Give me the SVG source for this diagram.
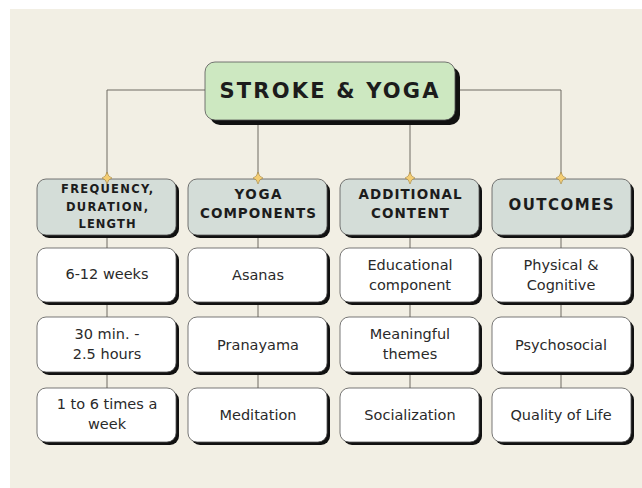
<svg xmlns="http://www.w3.org/2000/svg" width="642" height="488" viewBox="0 0 642 488">
<style>
.sh{fill:#111;}
.hd{fill:#d4ddd8;stroke:#555;stroke-width:0.8;}
.bx{fill:#ffffff;stroke:#555;stroke-width:0.8;}
.ttl{fill:#cde8c1;stroke:#555;stroke-width:0.8;}
.ln{fill:none;stroke:#6e6a62;stroke-width:1;}
.star{fill:#f4cd72;stroke:#a88438;stroke-width:0.6;}
.h{font-family:"DejaVu Sans","Open Sans",sans-serif;font-weight:bold;fill:#1c1c1c;text-anchor:middle;}
.t{font-family:"DejaVu Sans","Open Sans",sans-serif;font-size:14.5px;fill:#2a2a2a;text-anchor:middle;}
</style>
<defs>
<path id="spark" d="M0,-6 Q1,-1 5,0 Q1,1 0,6 Q-1,1 -5,0 Q-1,-1 0,-6 Z"/>
</defs>
<rect x="0" y="0" width="642" height="488" fill="#ffffff"/>
<rect x="10" y="9" width="632" height="479" fill="#f2efe4"/>

<g id="connectors">
<path class="ln" d="M205,90 H107 V178"/>
<path class="ln" d="M460,90 H561 V178"/>
<path class="ln" d="M258,122 V178"/>
<path class="ln" d="M410,122 V178"/>
<path class="ln" d="M107,235 V388"/>
<path class="ln" d="M258,235 V388"/>
<path class="ln" d="M410,235 V388"/>
<path class="ln" d="M561,235 V388"/>
</g>

<g id="title">
<rect class="sh" x="210" y="67" width="250" height="58" rx="10"/>
<rect class="ttl" x="205" y="62" width="250" height="58" rx="10"/>
<text class="h" x="329" y="98" font-size="21" textLength="219" lengthAdjust="spacing">STROKE &amp; YOGA</text>
</g>

<g id="h1">
<rect class="sh" x="40" y="182" width="139" height="56" rx="9"/>
<rect class="hd" x="37" y="179" width="139" height="56" rx="9"/>
<text class="h" font-size="11.5" x="107" y="193" textLength="92" lengthAdjust="spacing">FREQUENCY,</text>
<text class="h" font-size="11.5" x="107" y="211" textLength="82" lengthAdjust="spacing">DURATION,</text>
<text class="h" font-size="11.5" x="107" y="228" textLength="57" lengthAdjust="spacing">LENGTH</text>
</g>
<g id="h2">
<rect class="sh" x="191" y="182" width="139" height="56" rx="9"/>
<rect class="hd" x="188" y="179" width="139" height="56" rx="9"/>
<text class="h" font-size="13.5" x="258" y="199" textLength="47" lengthAdjust="spacing">YOGA</text>
<text class="h" font-size="13.5" x="258" y="218" textLength="116" lengthAdjust="spacing">COMPONENTS</text>
</g>
<g id="h3">
<rect class="sh" x="343" y="182" width="139" height="56" rx="9"/>
<rect class="hd" x="340" y="179" width="139" height="56" rx="9"/>
<text class="h" font-size="13.5" x="410" y="199" textLength="103" lengthAdjust="spacing">ADDITIONAL</text>
<text class="h" font-size="13.5" x="410" y="218" textLength="78" lengthAdjust="spacing">CONTENT</text>
</g>
<g id="h4">
<rect class="sh" x="495" y="182" width="139" height="56" rx="9"/>
<rect class="hd" x="492" y="179" width="139" height="56" rx="9"/>
<text class="h" font-size="15" x="561" y="210" textLength="105" lengthAdjust="spacing">OUTCOMES</text>
</g>

<g id="stars">
<use href="#spark" class="star" x="107" y="178"/>
<use href="#spark" class="star" x="258" y="178"/>
<use href="#spark" class="star" x="410" y="178"/>
<use href="#spark" class="star" x="561" y="178"/>
</g>

<g id="c1r1">
<rect class="sh" x="40" y="251" width="139" height="54" rx="9"/>
<rect class="bx" x="37" y="248" width="139" height="54" rx="9"/>
<text class="t" x="107" y="279">6-12 weeks</text>
</g>
<g id="c1r2">
<rect class="sh" x="40" y="320" width="139" height="55" rx="9"/>
<rect class="bx" x="37" y="317" width="139" height="55" rx="9"/>
<text class="t" x="107" y="339">30 min. -</text>
<text class="t" x="107" y="359">2.5 hours</text>
</g>
<g id="c1r3">
<rect class="sh" x="40" y="391" width="139" height="54" rx="9"/>
<rect class="bx" x="37" y="388" width="139" height="54" rx="9"/>
<text class="t" x="107" y="409">1 to 6 times a</text>
<text class="t" x="107" y="429">week</text>
</g>

<g id="c2r1">
<rect class="sh" x="191" y="251" width="139" height="54" rx="9"/>
<rect class="bx" x="188" y="248" width="139" height="54" rx="9"/>
<text class="t" x="258" y="280">Asanas</text>
</g>
<g id="c2r2">
<rect class="sh" x="191" y="320" width="139" height="55" rx="9"/>
<rect class="bx" x="188" y="317" width="139" height="55" rx="9"/>
<text class="t" x="258" y="350">Pranayama</text>
</g>
<g id="c2r3">
<rect class="sh" x="191" y="391" width="139" height="54" rx="9"/>
<rect class="bx" x="188" y="388" width="139" height="54" rx="9"/>
<text class="t" x="258" y="420">Meditation</text>
</g>

<g id="c3r1">
<rect class="sh" x="343" y="251" width="139" height="54" rx="9"/>
<rect class="bx" x="340" y="248" width="139" height="54" rx="9"/>
<text class="t" x="410" y="270">Educational</text>
<text class="t" x="410" y="290">component</text>
</g>
<g id="c3r2">
<rect class="sh" x="343" y="320" width="139" height="55" rx="9"/>
<rect class="bx" x="340" y="317" width="139" height="55" rx="9"/>
<text class="t" x="410" y="339">Meaningful</text>
<text class="t" x="410" y="359">themes</text>
</g>
<g id="c3r3">
<rect class="sh" x="343" y="391" width="139" height="54" rx="9"/>
<rect class="bx" x="340" y="388" width="139" height="54" rx="9"/>
<text class="t" x="410" y="420">Socialization</text>
</g>

<g id="c4r1">
<rect class="sh" x="495" y="251" width="139" height="54" rx="9"/>
<rect class="bx" x="492" y="248" width="139" height="54" rx="9"/>
<text class="t" x="561" y="270">Physical &amp;</text>
<text class="t" x="561" y="290">Cognitive</text>
</g>
<g id="c4r2">
<rect class="sh" x="495" y="320" width="139" height="55" rx="9"/>
<rect class="bx" x="492" y="317" width="139" height="55" rx="9"/>
<text class="t" x="561" y="350">Psychosocial</text>
</g>
<g id="c4r3">
<rect class="sh" x="495" y="391" width="139" height="54" rx="9"/>
<rect class="bx" x="492" y="388" width="139" height="54" rx="9"/>
<text class="t" x="561" y="420">Quality of Life</text>
</g>
</svg>
